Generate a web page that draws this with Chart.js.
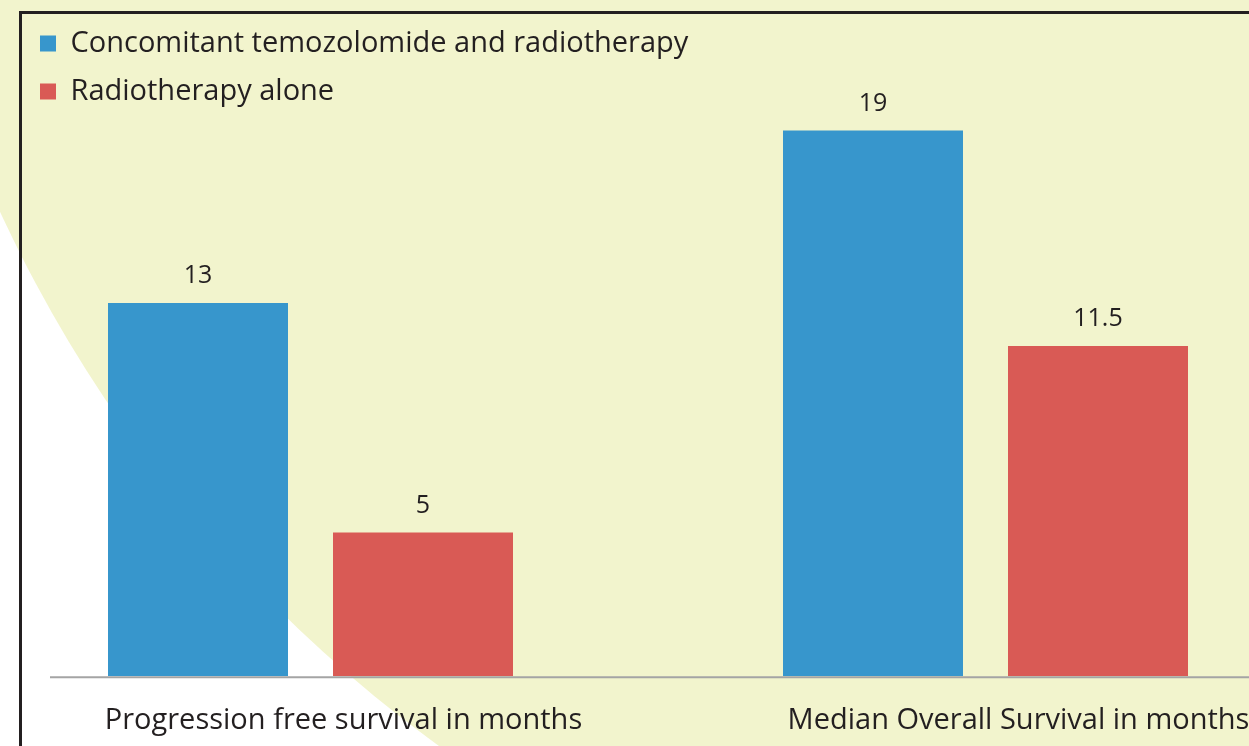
<!DOCTYPE html>
<html>
<head>
<meta charset="utf-8">
<title>Temozolomide and radiotherapy</title>
<script src="https://cdn.jsdelivr.net/npm/chart.js@4.4.0/dist/chart.umd.min.js"></script>
<style>
html, body { margin: 0; padding: 0; }
body { width: 1249px; height: 746px; overflow: hidden; position: relative; background: #ffffff; }
#bgCircle { position: absolute; left: -126px; top: -1731px; width: 2738px; height: 2738px; border-radius: 50%; background: #f2f4cd; }
#frame { position: absolute; left: 19px; top: 11px; width: 1400px; height: 900px; border-left: 3px solid #231f20; border-top: 3px solid #231f20; }
#survivalChart { position: absolute; left: 0; top: 10px; }
</style>
</head>
<body>
<div id="bgCircle"></div>
<div id="frame"></div>
<canvas id="survivalChart" width="1400" height="755"></canvas>
<script>
var categories = ['Progression free survival in months', 'Median Overall Survival in months'];
var seriesNames = ['Concomitant temozolomide and radiotherapy', 'Radiotherapy alone'];
var tmzRadioValues = [13, 19];
var radioAloneValues = [5, 11.5];

var textColor = '#231f20';
var fontName = 'Open Sans';

// numbers over the bars
var valueLabels = {
	id: 'valueLabels',
	afterDatasetsDraw: function(chart) {
		var ctx = chart.ctx;
		ctx.save();
		ctx.font = '25px "' + fontName + '"';
		ctx.fillStyle = textColor;
		ctx.textAlign = 'center';
		ctx.textBaseline = 'alphabetic';
		chart.data.datasets.forEach(function(ds, i) {
			chart.getDatasetMeta(i).data.forEach(function(bar, j) {
				ctx.fillText(ds.data[j].y, bar.x, bar.y - 20);
			});
		});
		ctx.restore();
	}
};

// grey axis line, starts a bit right of the plot edge
var baseLine = {
	id: 'baseLine',
	afterDatasetsDraw: function(chart) {
		var ctx = chart.ctx;
		var y = chart.scales.y.getPixelForValue(0) + 1;
		ctx.save();
		ctx.strokeStyle = '#a4a4a4';
		ctx.lineWidth = 2;
		ctx.beginPath();
		ctx.moveTo(50, y);
		ctx.lineTo(chart.chartArea.right, y);
		ctx.stroke();
		ctx.restore();
	}
};

function toPoints(values) {
	return values.map(function(v, i) {
		return { x: i, y: v };
	});
}

function drawChart() {
	var ctx = document.getElementById('survivalChart').getContext('2d');
	var survivalChart = new Chart(ctx, {
		type: 'bar',
		data: {
			datasets: [{
				label: seriesNames[0],
				data: toPoints(tmzRadioValues),
				backgroundColor: '#3796cc',
				borderWidth: 0
			}, {
				label: seriesNames[1],
				data: toPoints(radioAloneValues),
				backgroundColor: '#d95a55',
				borderWidth: 0
			}]
		},
		options: {
			responsive: false,
			animation: false,
			devicePixelRatio: 1,
			layout: { padding: { left: 21, top: 0, right: 0, bottom: 0 } },
			datasets: {
				bar: { categoryPercentage: 2 / 3, barPercentage: 0.8 }
			},
			scales: {
				x: {
					type: 'linear',
					offset: false,
					min: -0.42889,
					max: 1.61407,
					grid: { display: false, drawTicks: false },
					border: { display: false },
					afterBuildTicks: function(scale) {
						scale.ticks = categories.map(function(c, i) {
							return { value: i };
						});
					},
					ticks: {
						autoSkip: false,
						maxRotation: 0,
						padding: 27,
						labelOffset: 33,
						color: textColor,
						font: { family: fontName, size: 29 },
						callback: function(v) {
							return categories[v];
						}
					}
				},
				y: {
					display: false,
					min: 0,
					max: 23.2
				}
			},
			plugins: {
				tooltip: { enabled: false },
				legend: {
					position: 'chartArea',
					align: 'start',
					labels: {
						boxWidth: 16,
						boxHeight: 16,
						padding: 19,
						color: textColor,
						font: { family: fontName, size: 29 }
					}
				}
			}
		},
		plugins: [baseLine, valueLabels]
	});
}

document.fonts.load('29px "' + fontName + '"').then(drawChart, drawChart);
</script>
</body>
</html>
